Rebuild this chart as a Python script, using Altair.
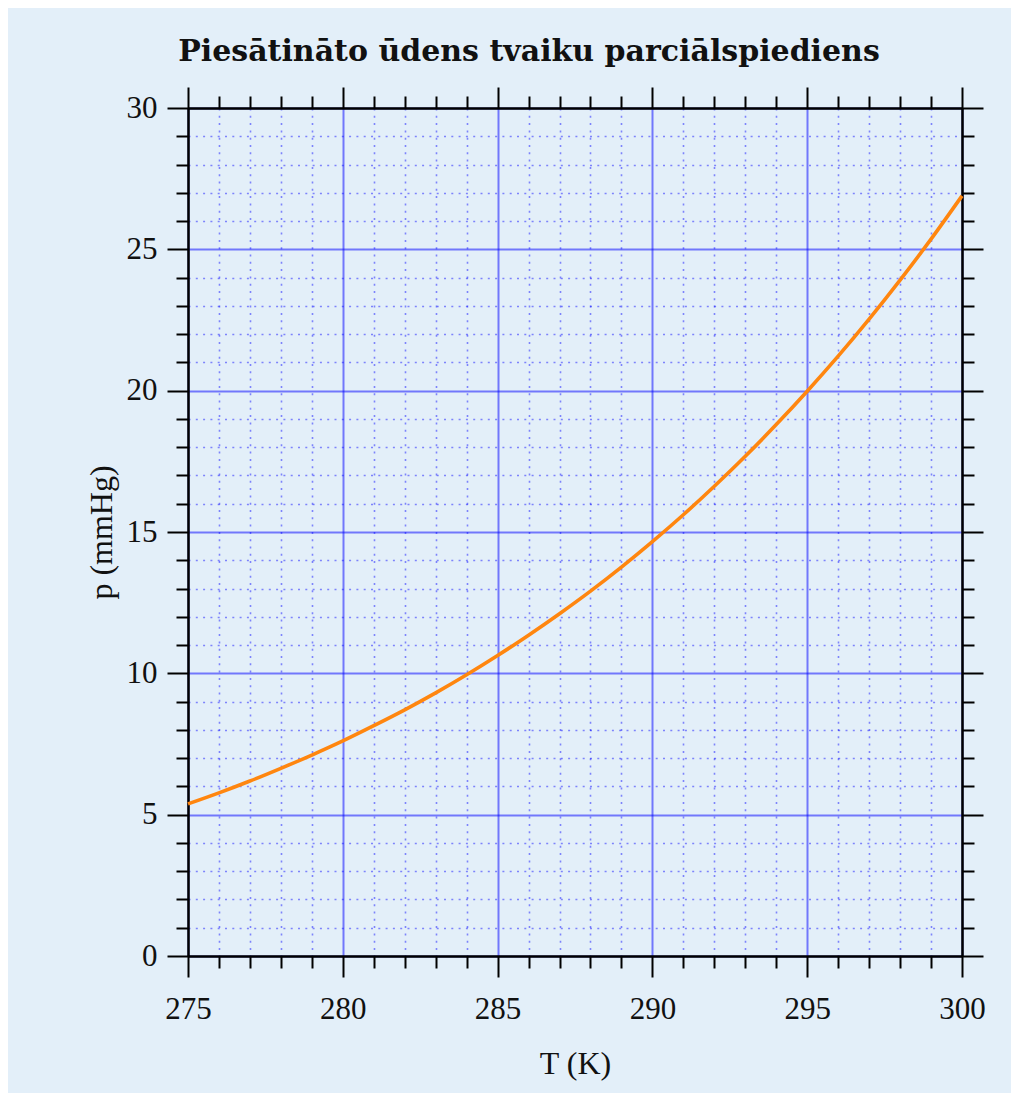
import altair as alt
import pandas as pd

# data
T_K = [275, 276, 277, 278, 279, 280, 281, 282, 283, 284, 285, 286, 287,
       288, 289, 290, 291, 292, 293, 294, 295, 296, 297, 298, 299, 300]
p_mmHg = [5.38, 5.77, 6.19, 6.64, 7.11, 7.61, 8.15, 8.71, 9.31, 9.95, 10.63,
          11.35, 12.11, 12.91, 13.76, 14.66, 15.61, 16.62, 17.68, 18.80,
          19.98, 21.22, 22.53, 23.91, 25.36, 26.89]

x_major = [275, 280, 285, 290, 295, 300]
x_minor = [k for k in range(275, 301) if k % 5]
y_major = [0, 5, 10, 15, 20, 25, 30]
y_minor = [v for v in range(0, 31) if v % 5]

TITLE = "Piesātināto ūdens tvaiku parciālspiediens"
X_TITLE = "T (K)"
Y_TITLE = "p (mmHg)"

BG = "#e3eff9"
W, H = 774, 848

df = pd.DataFrame({"T": T_K, "p": p_mmHg})
base = alt.Chart(df)
xs = alt.Scale(domain=[275, 300], nice=False, zero=False)
ys = alt.Scale(domain=[0, 30], nice=False, zero=False)

common = dict(domain=True, domainColor="black", domainWidth=2,
              tickColor="black", tickWidth=2, labelFlush=False)

def layer(xaxis, yaxis):
    return base.mark_line(opacity=0).encode(
        x=alt.X("T:Q", scale=xs, axis=xaxis),
        y=alt.Y("p:Q", scale=ys, axis=yaxis),
    )

minor_grid = dict(grid=True, gridColor="#0000ff", gridOpacity=0.45,
                  gridWidth=1.6, gridDash=[2, 5.3])
major_grid = dict(grid=True, gridColor="#0000ff", gridOpacity=0.5, gridWidth=2)

x_minor_bottom = alt.Axis(orient="bottom", values=x_minor, tickSize=12,
                          labels=False, title=None, **minor_grid, **common)
y_minor_left = alt.Axis(orient="left", values=y_minor, tickSize=12,
                        labels=False, title=None, **minor_grid, **common)

x_major_bottom = alt.Axis(orient="bottom", values=x_major, tickSize=21,
                          labels=True, labelFont="Liberation Serif",
                          labelFontSize=31, labelColor="#111",
                          labelBaseline="alphabetic", labelPadding=41,
                          labelAlign="center",
                          format="d", title=X_TITLE,
                          titleFont="Liberation Serif", titleFontSize=32,
                          titleFontWeight="normal", titleColor="#111",
                          titleX=W / 2, titleY=107, titleBaseline="middle",
                          titleAlign="center",
                          **major_grid, **common)
y_major_left = alt.Axis(orient="left", values=y_major, tickSize=21,
                        labels=True, labelFont="Liberation Serif",
                        labelFontSize=31, labelColor="#111",
                        labelBaseline="middle", labelPadding=10,
                        format="d", title=Y_TITLE,
                        titleFont="Liberation Serif", titleFontSize=32,
                        titleFontWeight="normal", titleColor="#111",
                        titleX=-87, titleY=H / 2, titleAngle=270,
                        titleBaseline="middle", titleAlign="center",
                        **major_grid, **common)

x_minor_top = alt.Axis(orient="top", values=x_minor, tickSize=12, labels=False,
                       title=None, grid=False, **common)
y_minor_right = alt.Axis(orient="right", values=y_minor, tickSize=12,
                         labels=False, title=None, grid=False, **common)
x_major_top = alt.Axis(orient="top", values=x_major, tickSize=21, labels=False,
                       title=None, grid=False, **common)
y_major_right = alt.Axis(orient="right", values=y_major, tickSize=21,
                         labels=False, title=None, grid=False, **common)

curve = base.mark_line(color="#ff860f", strokeWidth=3.6,
                       interpolate="monotone").encode(
    x=alt.X("T:Q", scale=xs, axis=None),
    y=alt.Y("p:Q", scale=ys, axis=None),
)

chart = alt.layer(
    layer(x_minor_bottom, y_minor_left),
    layer(x_major_bottom, y_major_left),
    layer(x_minor_top, y_minor_right),
    layer(x_major_top, y_major_right),
    curve,
).resolve_axis(x="independent", y="independent").properties(
    width=W, height=H,
    autosize=alt.AutoSizeParams(type="none"),
    padding={"left": 180, "top": 100, "right": 49, "bottom": 137},
    background=BG,
    title=alt.Title(TITLE, font="DejaVu Serif", fontWeight="bold",
                    fontSize=30, color="#111", anchor="middle", frame="group",
                    dx=-46, baseline="alphabetic", offset=-5),
).configure_view(stroke=None)

chart.save("out.html", embed_options={"renderer": "svg", "actions": False})
